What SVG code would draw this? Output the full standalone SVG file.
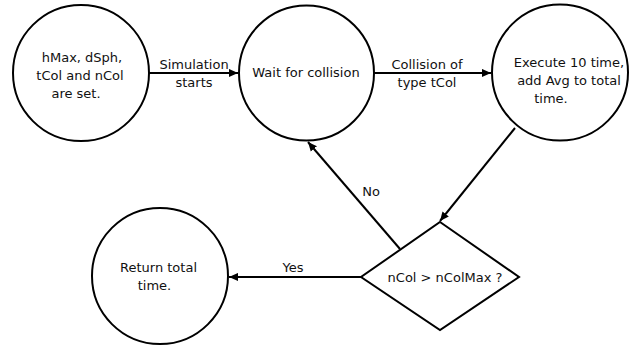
<svg xmlns="http://www.w3.org/2000/svg" width="633" height="349" viewBox="0 0 633 349">
  <defs>
    <marker id="arrow" viewBox="0 0 10 10" refX="10" refY="5" markerWidth="4.5" markerHeight="4.5" orient="auto" markerUnits="strokeWidth">
      <path d="M0,0.5 L10,5 L0,9.5 z" fill="#000"/>
    </marker>
  </defs>
  <style>
    .shape { fill: #fff; stroke: #000; stroke-width: 2; }
    .edge { fill: none; stroke: #000; stroke-width: 2; marker-end: url(#arrow); }
    text { font-family: "DejaVu Sans", Verdana, sans-serif; font-size: 13px; fill: #111; text-anchor: middle; }
  </style>
  <rect width="633" height="349" fill="#fff"/>

  <g id="connectors">
    <line class="edge" x1="149" y1="73" x2="238" y2="73"/>
    <line class="edge" x1="374" y1="73" x2="491" y2="73"/>
    <line class="edge" x1="515" y1="128" x2="440" y2="221"/>
    <line class="edge" x1="400" y1="249" x2="308" y2="142"/>
    <line class="edge" x1="361" y1="277" x2="229" y2="277"/>
    <text x="194" y="69">Simulation</text>
    <text x="194" y="87">starts</text>
    <text x="427" y="69">Collision of</text>
    <text x="427" y="87">type tCol</text>
    <text x="371" y="196">No</text>
    <text x="293" y="272">Yes</text>
  </g>

  <g id="node-setup">
    <circle class="shape" cx="81" cy="73" r="68"/>
    <text x="82" y="62">hMax, dSph,</text>
    <text x="80" y="80">tCol and nCol</text>
    <text x="76" y="98">are set.</text>
  </g>

  <g id="node-wait">
    <circle class="shape" cx="306.5" cy="73" r="67.5"/>
    <text x="306" y="77">Wait for collision</text>
  </g>

  <g id="node-execute">
    <circle class="shape" cx="560" cy="72.5" r="68"/>
    <text x="569" y="67">Execute 10 time,</text>
    <text x="569" y="85">add Avg to total</text>
    <text x="551" y="103">time.</text>
  </g>

  <g id="node-decision">
    <polygon class="shape" points="440,222 519,277 440,330 361,277"/>
    <text x="445" y="282">nCol &gt; nColMax ?</text>
  </g>

  <g id="node-return">
    <circle class="shape" cx="160" cy="276" r="68"/>
    <text x="158.5" y="272">Return total</text>
    <text x="154.5" y="290">time.</text>
  </g>
</svg>
